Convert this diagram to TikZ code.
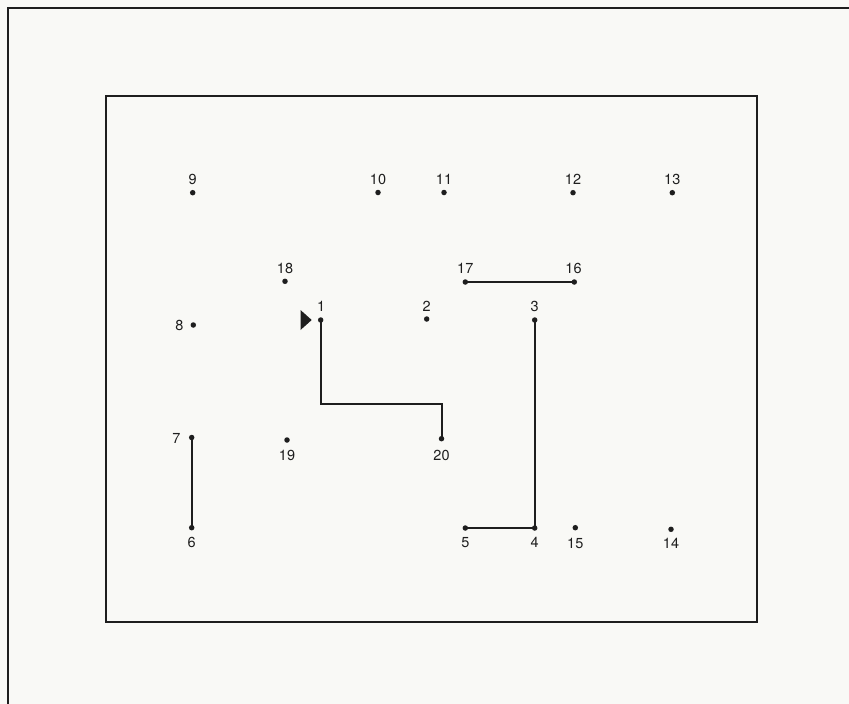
\documentclass[tikz,border=0pt]{standalone}
\usepackage{fontspec}
\setmainfont{TeX Gyre Heros}
\definecolor{paper}{RGB}{249,249,246}
\definecolor{ink}{RGB}{30,30,30}
\begin{document}
\begin{tikzpicture}[x=1pt,y=-1pt,
  dot/.style={circle,fill=ink,inner sep=0pt,minimum size=5.5pt},
  lab/.style={inner sep=0pt,text=ink,font=\fontsize{14.5}{16}\selectfont},
  conn/.style={draw=ink,line width=2pt},
  frame/.style={draw=ink,line width=2pt}]
\fill[paper] (0,0) rectangle (849,704);
\useasboundingbox (0,0) rectangle (849,704);
% frames
\draw[frame] (852,8) -- (8,8) -- (8,708);
\draw[frame] (106,96) rectangle (757.3,622);
% dots
\node[dot] (p9)  at (192.7,192.7) {};
\node[dot] (p10) at (378,192.5) {};
\node[dot] (p11) at (444,192.5) {};
\node[dot] (p12) at (573,192.7) {};
\node[dot] (p13) at (672.3,192.7) {};
\node[dot] (p18) at (285,281.3) {};
\node[dot] (p17) at (465.3,282) {};
\node[dot] (p16) at (574.3,282) {};
\node[dot] (p1)  at (320.7,320) {};
\node[dot] (p2)  at (426.7,319) {};
\node[dot] (p3)  at (534.7,320) {};
\node[dot] (p8)  at (193.3,325) {};
\node[dot] (p7)  at (191.7,437.5) {};
\node[dot] (p19) at (287,440) {};
\node[dot] (p20) at (441.5,438.7) {};
\node[dot] (p6)  at (191.7,527.7) {};
\node[dot] (p5)  at (465.3,528) {};
\node[dot] (p4)  at (534.7,528) {};
\node[dot] (p15) at (575.3,527.7) {};
\node[dot] (p14) at (671,529.3) {};
% labels
\node[lab] (t9)  at (192.7,179) {9};
\node[lab] (t10) at (378,179) {10};
\node[lab] (t11) at (444,179) {11};
\node[lab] (t12) at (573,179) {12};
\node[lab] (t13) at (672.3,179) {13};
\node[lab] (t18) at (285,268) {18};
\node[lab] (t17) at (465.3,268) {17};
\node[lab] (t16) at (573.5,268) {16};
\node[lab] (t1)  at (321.2,306.5) {1};
\node[lab] (t2)  at (426.7,306) {2};
\node[lab] (t3)  at (534.7,306.7) {3};
\node[lab] (t8)  at (179.5,325) {8};
\node[lab] (t7)  at (176.5,438) {7};
\node[lab] (t19) at (287,455) {19};
\node[lab] (t20) at (441.5,455) {20};
\node[lab] (t6)  at (191.7,542.7) {6};
\node[lab] (t5)  at (465.3,542.7) {5};
\node[lab] (t4)  at (534.7,542.7) {4};
\node[lab] (t15) at (575.3,543) {15};
\node[lab] (t14) at (671,543) {14};
% start marker
\fill[ink] (300.5,310) -- (311.7,320) -- (300.5,330) -- cycle;
% connectors
\coordinate (k1) at (441.5,404.3);
\draw[conn] (p1.center) |- (k1) -- (p20.center);
\draw[conn] (p3.center) -- (p4.center) -- (p5.center);
\draw[conn] (p17.center) -- (p16.center);
\draw[conn] (p7.center) -- (p6.center);
\end{tikzpicture}
\end{document}
